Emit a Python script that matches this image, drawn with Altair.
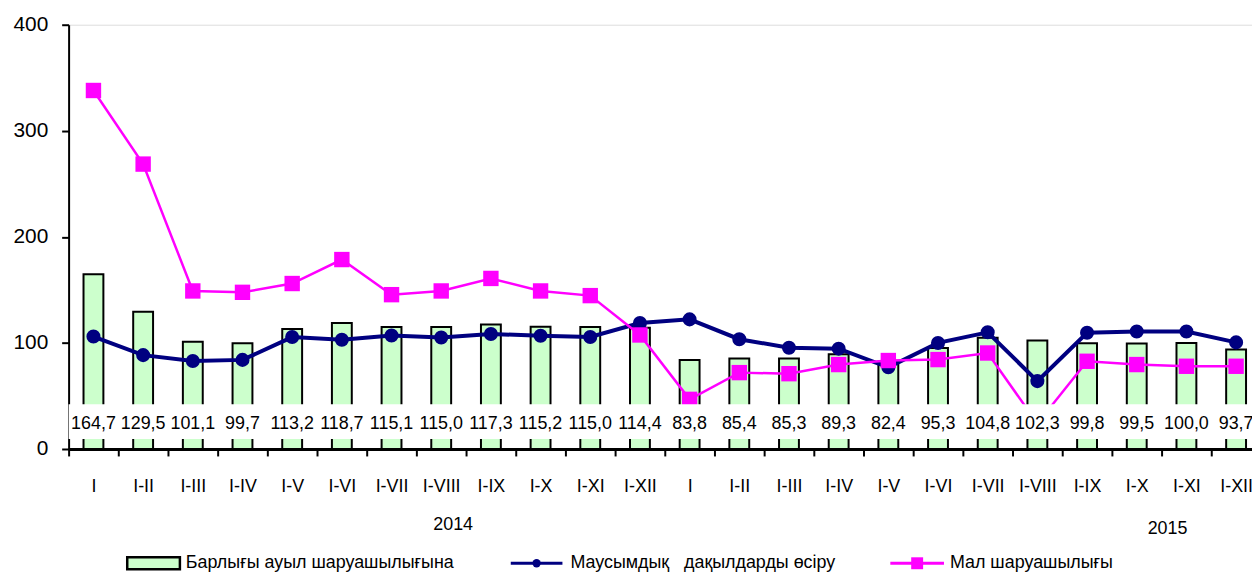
import altair as alt
import pandas as pd

months = ["I", "I-II", "I-III", "I-IV", "I-V", "I-VI", "I-VII", "I-VIII", "I-IX", "I-X", "I-XI", "I-XII"]
years = ["2014"] * 12 + ["2015"] * 12
periods = months + months
total = [164.7, 129.5, 101.1, 99.7, 113.2, 118.7, 115.1, 115.0, 117.3, 115.2, 115.0, 114.4,
         83.8, 85.4, 85.3, 89.3, 82.4, 95.3, 104.8, 102.3, 99.8, 99.5, 100.0, 93.7]
crops = [106.0, 88.5, 83.0, 84.0, 105.5, 103.0, 107.0, 105.2, 108.4, 106.8, 105.6, 118.7,
         122.2, 103.5, 95.5, 94.6, 77.0, 100.0, 110.0, 64.0, 109.6, 110.8, 110.8, 100.5]
livestock = [338.0, 268.6, 149.0, 147.7, 156.0, 178.6, 145.5, 149.0, 160.8, 149.0, 144.6, 107.5,
             46.8, 72.0, 71.0, 79.6, 83.4, 84.3, 90.5, 24.0, 82.7, 79.6, 78.0, 78.0]
year_labels = ["2014", "2015"]
series_names = ["Барлығы ауыл шаруашылығына", "Маусымдық\u00a0\u00a0 дақылдарды өсіру", "Мал шаруашылығы"]

keys = [f"{y} {p}" for y, p in zip(years, periods)]
df = pd.DataFrame({
    "key": keys,
    "period": periods,
    "total": total,
    "crops": crops,
    "livestock": livestock,
    "label": [f"{v:.1f}".replace(".", ",") for v in total],
})

FONT = "Liberation Sans"
W, H = 1191, 427

x_enc = alt.X(
    "key:N",
    sort=keys,
    scale=alt.Scale(domain=keys, range=[0, 1200], paddingInner=0, paddingOuter=0),
    axis=alt.Axis(
        title=None,
        labelExpr="split(datum.label, ' ')[1]",
        labelAngle=0,
        labelFont=FONT,
        labelFontSize=18,
        labelColor="black",
        labelPadding=22,
        labelBaseline="top",
        tickBand="extent",
        tickSize=7,
        tickWidth=2,
        tickColor="black",
        domainColor="black",
        domainWidth=3,
        grid=False,
        labelOverlap=False,
    ),
)
y_scale = alt.Scale(domain=[0, 400], nice=False, zero=True)
y_axis = alt.Axis(
    title=None,
    values=[0, 100, 200, 300, 400],
    labelFont=FONT,
    labelFontSize=21,
    labelColor="black",
    labelPadding=14,
    tickSize=7,
    tickWidth=2,
    tickColor="black",
    domainColor="black",
    domainWidth=2,
    grid=False,
)

base = alt.Chart(df)

bars = base.mark_bar(size=20, fill="#CCFFCC", stroke="black", strokeWidth=2).encode(
    x=x_enc,
    y=alt.Y("total:Q", scale=y_scale, axis=y_axis),
)

crop_line = base.mark_line(color="#000080", strokeWidth=4).encode(x=x_enc, y=alt.Y("crops:Q", scale=y_scale))
crop_pts = base.mark_point(shape="circle", filled=True, color="#000080", size=200, opacity=1).encode(
    x=x_enc, y=alt.Y("crops:Q", scale=y_scale))

live_line = base.mark_line(color="#FF00FF", strokeWidth=2.5).encode(x=x_enc, y=alt.Y("livestock:Q", scale=y_scale))
live_pts = base.mark_point(shape="square", filled=True, color="#FF00FF", size=240, opacity=1).encode(
    x=x_enc, y=alt.Y("livestock:Q", scale=y_scale))

band = base.mark_rect(color="white").encode(
    x=x_enc,
    y=alt.datum(42.2, scale=y_scale),
    y2=alt.datum(9.4),
)

labels = base.mark_text(font=FONT, fontSize=18, color="black", baseline="middle").encode(
    x=x_enc,
    y=alt.datum(23.4, scale=y_scale),
    text="label:N",
)

yr_df = pd.DataFrame({"year": year_labels, "px": [387, 1106], "py": [504, 508]})
year_text = alt.Chart(yr_df).mark_text(font=FONT, fontSize=18, color="black", baseline="middle").encode(
    x=alt.X("px:Q", scale=None),
    y=alt.Y("py:Q", scale=None),
    text="year:N",
)

# legend
leg_y = 542
leg_swatch = alt.Chart(pd.DataFrame({"s": [series_names[0]]})).mark_rect(
    fill="#CCFFCC", stroke="black", strokeWidth=2.5).encode(
    x=alt.value(59), x2=alt.value(112), y=alt.value(leg_y - 6), y2=alt.value(leg_y + 6))
leg_lines_df = pd.DataFrame({
    "s": series_names[1:],
    "x1": [445, 827],
    "x2": [497, 881],
    "y": [leg_y, leg_y],
    "c": ["#000080", "#FF00FF"],
})
leg_lines = alt.Chart(leg_lines_df).mark_rule(strokeWidth=3).encode(
    x=alt.X("x1:Q", scale=None), x2="x2:Q", y=alt.Y("y:Q", scale=None),
    color=alt.Color("c:N", scale=None))
leg_circle = alt.Chart(pd.DataFrame({"s": [series_names[1]]})).mark_point(
    shape="circle", filled=True, color="#000080", size=70, opacity=1).encode(
    x=alt.value(471), y=alt.value(leg_y))
leg_square = alt.Chart(pd.DataFrame({"s": [series_names[2]]})).mark_point(
    shape="square", filled=True, color="#FF00FF", size=144, opacity=1).encode(
    x=alt.value(854), y=alt.value(leg_y))
leg_text_df = pd.DataFrame({"s": series_names, "px": [118, 505, 887], "py": [leg_y] * 3})
leg_text = alt.Chart(leg_text_df).mark_text(
    font=FONT, fontSize=18, color="black", align="left", baseline="middle").encode(
    x=alt.X("px:Q", scale=None), y=alt.Y("py:Q", scale=None), text="s:N")

chart = alt.layer(
    bars, crop_line, crop_pts, live_line, live_pts, band, labels,
    year_text, leg_swatch, leg_lines, leg_circle, leg_square, leg_text,
).properties(
    width=W, height=H,
    autosize=alt.AutoSizeParams(type="none"),
    padding={"left": 61, "top": 15, "right": 0, "bottom": 127},
).configure_view(stroke=None).configure(background="white")

chart.save("out.html", embed_options={"renderer": "svg", "actions": False})
